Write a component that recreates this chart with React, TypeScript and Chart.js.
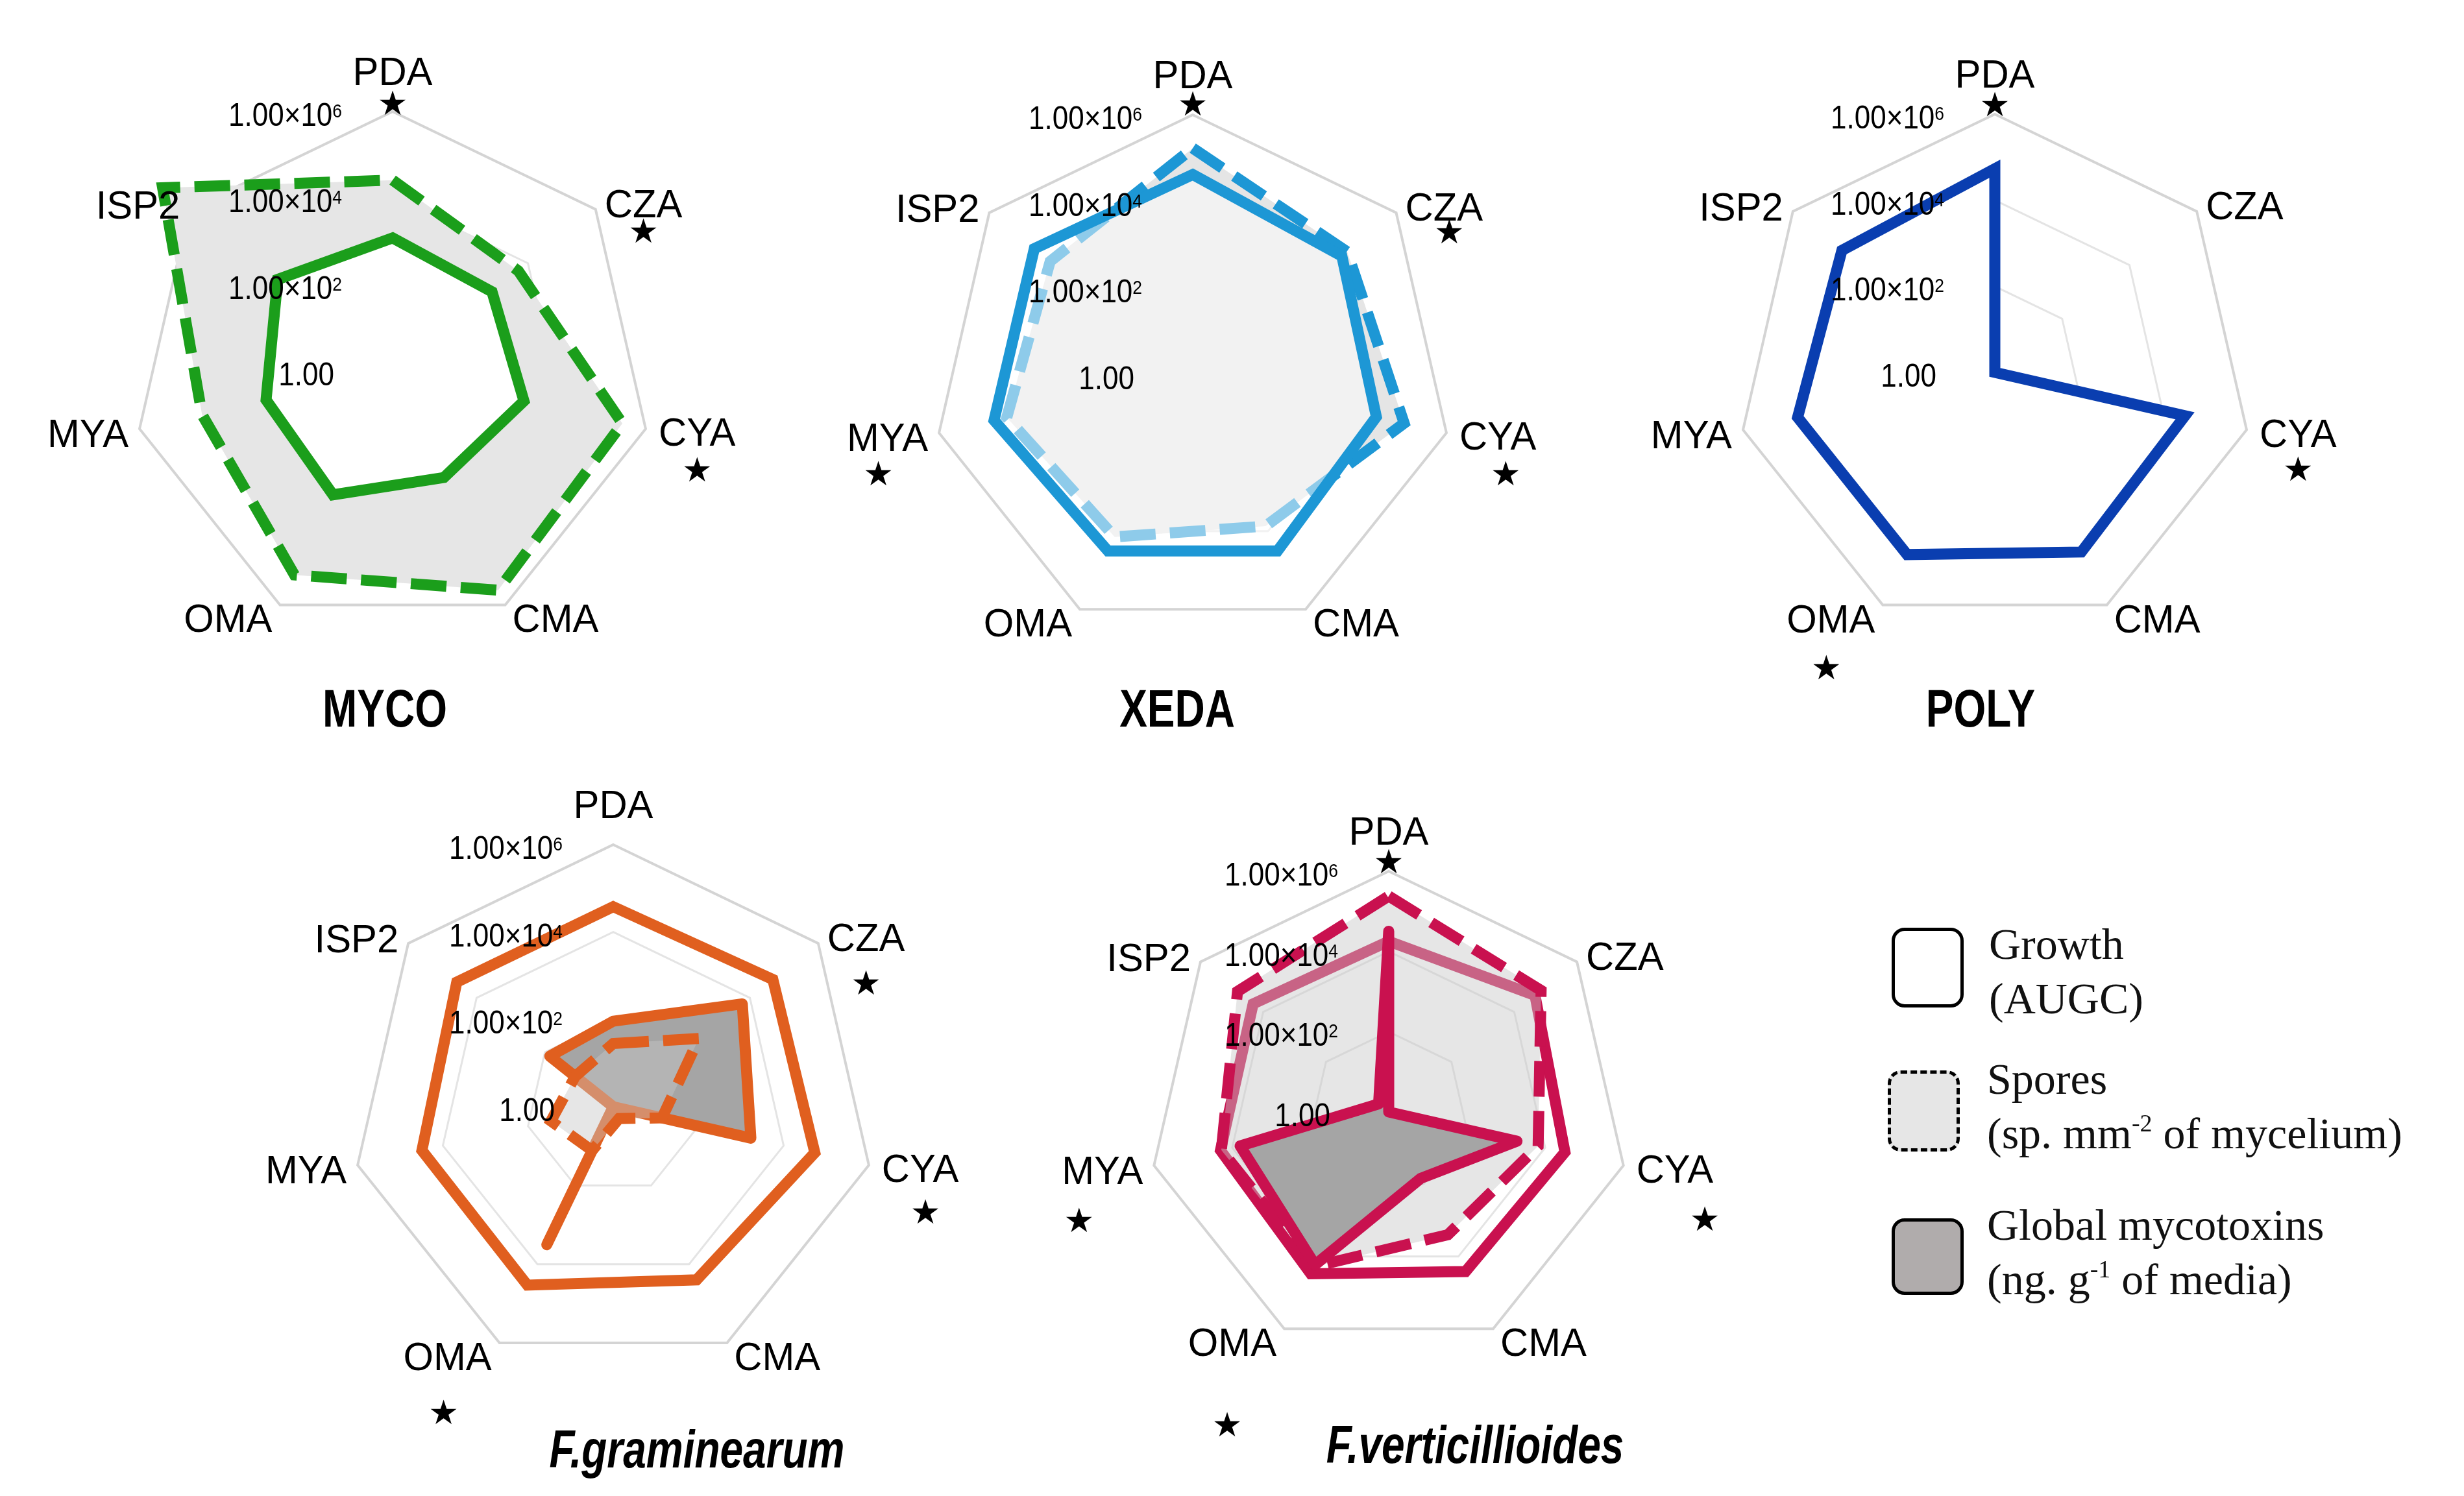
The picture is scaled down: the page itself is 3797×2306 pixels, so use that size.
import React, { useEffect, useRef } from "react";
import { Chart, registerables } from "chart.js";

Chart.register(...registerables);

// ---------- data ----------
const AXES = ["PDA", "CZA", "CYA", "CMA", "OMA", "MYA", "ISP2"];
const TICK_EXPONENTS = [0, 2, 4, 6];

// values in original units (log scale axis from 1 to 1e6)
const MYCO_GROWTH = [1.2e3, 8.7e2, 1.3e3, 5.4e2, 1.5e3, 1.0e3, 2.5e3];
const MYCO_SPORES = [2.6e4, 5.2e3, 2.8e5, 4.2e5, 1.7e5, 3.3e4, 6.3e6];

const XEDA_GROWTH = [4.2e4, 2.5e4, 2.2e4, 3.2e4, 3.2e4, 5.0e4, 4.7e4];
const XEDA_SPORES = [1.7e5, 3.6e4, 1.0e5, 7.4e3, 1.4e4, 2.5e4, 1.6e4];

const POLY_GROWTH = [5.4e4, 1, 3.4e4, 4.3e4, 5.0e4, 5.0e4, 3.5e4];

const FGRA_GROWTH = [3.8e4, 4.7e4, 5.4e4, 2.5e4, 3.4e4, 3.1e4, 3.8e4];
const FGRA_SPORES = [28, 320, 14, 2, 13, 29, 13];
const FGRA_MYCOTOXINS = [91, 6.0e3, 1.7e3, 1, 3.2e3, 1, 72];

const FVER_GROWTH = [1.8e4, 4.6e4, 3.2e4, 2.6e4, 3.0e4, 2.0e4, 2.1e4];
const FVER_SPORES = [2.4e5, 7.2e4, 6.6e3, 2.5e3, 1.9e4, 1.9e4, 6.6e4];
const FVER_MYCOTOXINS = [3.2e4, 1, 1.9e3, 69, 1.7e4, 6.3e3, 2.1];

// ---------- styling / layout ----------
const FONT_SANS = '"Liberation Sans", Arial, Helvetica, sans-serif';
const SX_TICK = 0.88;
const SX_LABEL = 0.98;
const SX_TITLE = 0.78;
const PAD = 600;
const DASH = [55, 22];
const LINE_W = 17;

const LABEL_PLACE = [
  { align: "center", dx: 0, dy: -63 },
  { align: "left", dx: 14, dy: -10 },
  { align: "left", dx: 20, dy: 4 },
  { align: "left", dx: 11, dy: 20 },
  { align: "right", dx: -12, dy: 20 },
  { align: "right", dx: -17, dy: 6 },
  { align: "right", dx: -15, dy: -8 },
];

type SeriesCfg = { values: number[]; kind: "growth" | "spores" | "myco"; fill: string | null; order: number };
type StarCfg = { i: number; dx: number; dy: number };
type PanelCfg = {
  key: string;
  title: string;
  italic: boolean;
  cx: number;
  cy: number;
  R: number;
  color: string;
  series: SeriesCfg[];
  stars: StarCfg[];
  titleDx: number;
  titleDy: number;
};

const PANELS: PanelCfg[] = [
  {
    key: "myco", title: "MYCO", italic: false, cx: 605, cy: 572, R: 400, color: "#1b9e1b",
    series: [
      { values: MYCO_GROWTH, kind: "growth", fill: "#ffffff", order: 1 },
      { values: MYCO_SPORES, kind: "spores", fill: "#e6e6e6", order: 2 },
    ],
    stars: [{ i: 0, dx: 0, dy: -9 }, { i: 1, dx: 0, dy: 48 }, { i: 2, dx: 0, dy: 63 }],
    titleDx: -12, titleDy: 518,
  },
  {
    key: "xeda", title: "XEDA", italic: false, cx: 1838, cy: 578, R: 401, color: "#1d97d5",
    series: [
      { values: XEDA_GROWTH, kind: "growth", fill: "rgba(255,255,255,0.5)", order: 1 },
      { values: XEDA_SPORES, kind: "spores", fill: "#e5e5e5", order: 2 },
    ],
    stars: [{ i: 0, dx: 0, dy: -13 }, { i: 1, dx: 8, dy: 44 }, { i: 2, dx: 12, dy: 63 }, { i: 5, dx: -14, dy: 61 }],
    titleDx: -24, titleDy: 512,
  },
  {
    key: "poly", title: "POLY", italic: false, cx: 3074, cy: 574, R: 398, color: "#0a3eb0",
    series: [{ values: POLY_GROWTH, kind: "growth", fill: "#ffffff", order: 1 }],
    stars: [{ i: 0, dx: 0, dy: -11 }, { i: 2, dx: 0, dy: 61 }, { i: 4, dx: -7, dy: 81 }],
    titleDx: -22, titleDy: 516,
  },
  {
    key: "fgra", title: "F.graminearum", italic: true, cx: 945, cy: 1706, R: 404, color: "#e05f1f",
    series: [
      { values: FGRA_GROWTH, kind: "growth", fill: null, order: 1 },
      { values: FGRA_SPORES, kind: "spores", fill: "rgba(200,200,200,0.45)", order: 2 },
      { values: FGRA_MYCOTOXINS, kind: "myco", fill: "#a5a5a5", order: 3 },
    ],
    stars: [{ i: 1, dx: 0, dy: 75 }, { i: 2, dx: 8, dy: 73 }, { i: 4, dx: -6, dy: 91 }],
    titleDx: 129, titleDy: 526,
  },
  {
    key: "fver", title: "F.verticillioides", italic: true, cx: 2140, cy: 1714, R: 371, color: "#c9114f",
    series: [
      { values: FVER_MYCOTOXINS, kind: "myco", fill: "#a5a5a5", order: 1 },
      { values: FVER_SPORES, kind: "spores", fill: "rgba(200,200,200,0.45)", order: 2 },
      { values: FVER_GROWTH, kind: "growth", fill: null, order: 3 },
    ],
    stars: [{ i: 0, dx: 0, dy: -11 }, { i: 2, dx: 46, dy: 83 }, { i: 5, dx: -36, dy: 83 }, { i: 4, dx: -8, dy: 132 }],
    titleDx: 133, titleDy: 511,
  },
];

function drawScaled(ctx: CanvasRenderingContext2D, text: string, x: number, y: number, sx: number) {
  ctx.save();
  ctx.translate(x, y);
  ctx.scale(sx, 1);
  ctx.textAlign = "left";
  ctx.fillText(text, 0, 0);
  ctx.restore();
}

function drawTick(ctx: CanvasRenderingContext2D, cx: number, yMid: number, exp: number) {
  const main = exp === 0 ? "1.00" : "1.00\u00d710";
  ctx.font = `50px ${FONT_SANS}`;
  const wMain = ctx.measureText(main).width * SX_TICK;
  let wSup = 0;
  const sup = exp === 0 ? "" : String(exp);
  if (sup) {
    ctx.font = `30px ${FONT_SANS}`;
    wSup = ctx.measureText(sup).width * SX_TICK;
  }
  const right = cx - (exp === 0 ? 90 : 78);
  const x0 = right - wMain - wSup;
  const base = yMid + 18;
  ctx.font = `50px ${FONT_SANS}`;
  drawScaled(ctx, main, x0, base, SX_TICK);
  if (sup) {
    ctx.font = `30px ${FONT_SANS}`;
    drawScaled(ctx, sup, x0 + wMain, base - 13, SX_TICK);
  }
}

function decorPlugin(cfg: PanelCfg) {
  return {
    id: "decor_" + cfg.key,
    afterDatasetsDraw(chart: any) {
      const ctx: CanvasRenderingContext2D = chart.ctx;
      const sc = chart.scales.r;
      const cx = sc.xCenter;
      const cy = sc.yCenter;
      const R = sc.drawingArea;
      ctx.save();
      ctx.fillStyle = "#000";
      ctx.textBaseline = "alphabetic";
      for (const e of TICK_EXPONENTS) {
        const d = sc.getDistanceFromCenterForValue(e);
        drawTick(ctx, cx, cy - d + 4, e);
      }
      const centers: { x: number; y: number }[] = [];
      (chart.data.labels as string[]).forEach((lab, i) => {
        const p = sc.getPointPosition(i, R);
        const o = LABEL_PLACE[i];
        ctx.font = `61px ${FONT_SANS}`;
        const w = ctx.measureText(lab).width * SX_LABEL;
        const x = p.x + o.dx;
        const yc = p.y + o.dy;
        const left = o.align === "center" ? x - w / 2 : o.align === "right" ? x - w : x;
        drawScaled(ctx, lab, left, yc + 22, SX_LABEL);
        centers[i] = { x: left + w / 2, y: yc };
      });
      ctx.font = `52px "DejaVu Sans", sans-serif`;
      ctx.textAlign = "center";
      ctx.textBaseline = "middle";
      for (const s of cfg.stars) {
        let x: number, y: number;
        if (s.i === 0) {
          const p = sc.getPointPosition(0, R);
          x = p.x + s.dx;
          y = p.y + s.dy;
        } else {
          x = centers[s.i].x + s.dx;
          y = centers[s.i].y + s.dy;
        }
        ctx.fillText("\u2605", x, y);
      }
      ctx.textBaseline = "alphabetic";
      ctx.font = `${cfg.italic ? "italic " : ""}bold 82px ${FONT_SANS}`;
      const tw = ctx.measureText(cfg.title).width * SX_TITLE;
      drawScaled(ctx, cfg.title, cx + cfg.titleDx - tw / 2, cy + cfg.titleDy + 30, SX_TITLE);
      ctx.restore();
    },
  };
}

function RadarPanel({ cfg }: { cfg: PanelCfg }) {
  const ref = useRef<HTMLCanvasElement>(null);
  const S = 2 * (cfg.R + PAD);
  useEffect(() => {
    if (!ref.current) return;
    const datasets = cfg.series.map((s) => ({
      label: s.kind,
      data: s.values.map((v) => Math.log10(v)),
      borderColor: cfg.color,
      borderWidth: LINE_W,
      borderDash: s.kind === "spores" ? DASH : [],
      borderCapStyle: "butt",
      borderJoinStyle: s.kind === "myco" ? "round" : "miter",
      backgroundColor: s.fill || "rgba(0,0,0,0)",
      fill: s.fill ? true : false,
      pointRadius: 0,
      pointHoverRadius: 0,
      tension: 0,
      order: s.order,
      clip: false,
    }));
    const chart = new Chart(ref.current, {
      type: "radar",
      data: { labels: AXES, datasets: datasets as any },
      options: {
        responsive: false,
        animation: false,
        events: [],
        layout: { padding: PAD },
        plugins: { legend: { display: false }, tooltip: { enabled: false }, title: { display: false } },
        scales: {
          r: {
            min: 0,
            max: 6,
            ticks: { display: false, stepSize: 2 },
            pointLabels: { display: false },
            angleLines: { display: false },
            grid: {
              color: (c: any) => (c.tick && c.tick.value === 6 ? "#d4d4d4" : "#e4e4e4"),
              lineWidth: (c: any) => (c.tick && c.tick.value === 6 ? 4 : 3),
            },
          },
        },
      } as any,
      plugins: [decorPlugin(cfg)],
    });
    return () => chart.destroy();
  }, []);
  return (
    <canvas
      ref={ref}
      width={S}
      height={S}
      style={{ position: "absolute", left: cfg.cx - cfg.R - PAD, top: cfg.cy - cfg.R - PAD, width: S, height: S }}
    />
  );
}

const LEGEND_FONT = '68px/84px "Liberation Serif", "Times New Roman", serif';
const supStyle: React.CSSProperties = { fontSize: 38, verticalAlign: 26, lineHeight: 0 };

function Legend() {
  return (
    <>
      <div style={{ position: "absolute", left: 2915, top: 1430, width: 111, height: 123, boxSizing: "border-box", border: "5px solid #000", borderRadius: 20, background: "#fff" }} />
      <div style={{ position: "absolute", left: 2909, top: 1650, width: 111, height: 125, boxSizing: "border-box", border: "5px dashed #000", borderRadius: 20, background: "#e6e6e6" }} />
      <div style={{ position: "absolute", left: 2915, top: 1878, width: 111, height: 118, boxSizing: "border-box", border: "5px solid #000", borderRadius: 20, background: "#b0acac" }} />
      <div style={{ position: "absolute", left: 3065, top: 1413, font: LEGEND_FONT, color: "#111", whiteSpace: "nowrap" }}>
        Growth<br />(AUGC)
      </div>
      <div style={{ position: "absolute", left: 3062, top: 1621, font: LEGEND_FONT, color: "#111", whiteSpace: "nowrap" }}>
        Spores<br />(sp. mm<span style={supStyle}>-2</span> of mycelium)
      </div>
      <div style={{ position: "absolute", left: 3062, top: 1846, font: LEGEND_FONT, color: "#111", whiteSpace: "nowrap" }}>
        Global mycotoxins<br />(ng. g<span style={supStyle}>-1</span> of media)
      </div>
    </>
  );
}

export default function App() {
  useEffect(() => {
    document.body.style.margin = "0";
    document.body.style.background = "#fff";
  }, []);
  return (
    <div style={{ position: "relative", width: 3797, height: 2306, overflow: "hidden", background: "#fff" }}>
      {PANELS.map((p) => (
        <RadarPanel key={p.key} cfg={p} />
      ))}
      <Legend />
    </div>
  );
}
